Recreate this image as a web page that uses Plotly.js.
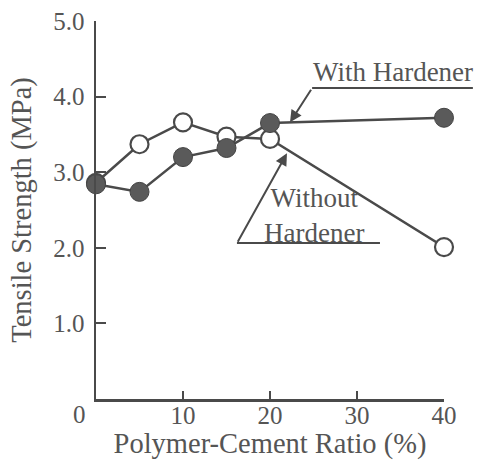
<!DOCTYPE html>
<html>
<head>
<meta charset="utf-8">
<script src="https://cdn.plot.ly/plotly-3.0.1.min.js"></script>
<style>html,body{margin:0;padding:0;background:#fff;}#chart{width:482px;height:462px;}</style>
</head>
<body>
<div id="chart"></div>
<script>
// Data
const ratio = [0, 5, 10, 15, 20, 40];
const withHardener = [2.84, 2.74, 3.20, 3.32, 3.65, 3.72];
const withoutHardener = [2.86, 3.37, 3.66, 3.47, 3.44, 2.01];
const xTickVals = [10, 20, 30, 40];
const xTickText = ['10', '20', '30', '40'];
const yTickVals = [1, 2, 3, 4, 5];
const yTickText = ['1.0', '2.0', '3.0', '4.0', '5.0'];

const ink = '#4a4a4a';
const txt = '#555555';
const serif = '"Liberation Serif", "DejaVu Serif", serif';

const traces = [
  {
    x: ratio, y: withoutHardener, type: 'scatter', mode: 'lines+markers',
    name: 'Without Hardener', cliponaxis: false,
    line: {color: ink, width: 2.5},
    marker: {symbol: 'circle', size: 18, color: '#ffffff', line: {color: ink, width: 2.2}}
  },
  {
    x: ratio, y: withHardener, type: 'scatter', mode: 'lines+markers',
    name: 'With Hardener', cliponaxis: false,
    line: {color: ink, width: 2.5},
    marker: {symbol: 'circle', size: 19, color: '#5a5a5a', line: {color: '#444444', width: 1}}
  }
];

const layout = {
  width: 482, height: 462,
  margin: {l: 96, r: 38, t: 21, b: 63},
  paper_bgcolor: '#ffffff', plot_bgcolor: '#ffffff',
  showlegend: false,
  font: {family: serif, color: txt, size: 25},
  xaxis: {
    range: [0, 40], showgrid: false, zeroline: false,
    showline: true, linecolor: ink, linewidth: 2.5,
    ticks: 'inside', ticklen: 8, tickwidth: 2, tickcolor: ink,
    tickvals: xTickVals, ticktext: xTickText, ticklabelstandoff: -8,
    tickfont: {family: serif, size: 25, color: txt},
    title: {text: 'Polymer-Cement Ratio (%)', font: {family: serif, size: 28.5, color: txt}, standoff: 3}
  },
  yaxis: {
    range: [0, 5], showgrid: false, zeroline: false,
    showline: true, linecolor: ink, linewidth: 2.5,
    ticks: 'inside', ticklen: 10, tickwidth: 2, tickcolor: ink,
    tickvals: yTickVals, ticktext: yTickText, ticklabelstandoff: 4,
    tickfont: {family: serif, size: 25, color: txt},
    title: {text: 'Tensile Strength (MPa)', font: {family: serif, size: 28.5, color: txt}, standoff: 14}
  },
  shapes: [
    {type: 'line', xref: 'paper', yref: 'paper', x0: 0.621, x1: 1.083, y0: 0.823, y1: 0.823, line: {color: ink, width: 2}},
    {type: 'line', xref: 'paper', yref: 'paper', x0: 0.405, x1: 0.816, y0: 0.413, y1: 0.413, line: {color: ink, width: 2}}
  ],
  annotations: [
    {text: 'With Hardener', xref: 'paper', yref: 'paper', x: 0.853, y: 0.865, showarrow: false,
     xanchor: 'center', yanchor: 'middle', font: {family: serif, size: 27, color: txt}},
    {text: '', x: 22.3, y: 3.66, xref: 'x', yref: 'y', showarrow: true, ax: 22, ay: -34,
     arrowhead: 2, arrowsize: 1.2, arrowwidth: 2, arrowcolor: ink},
    {text: 'Without<br>Hardener', xref: 'paper', yref: 'paper', x: 0.626, y: 0.485, showarrow: false,
     xanchor: 'center', yanchor: 'middle', align: 'center', font: {family: serif, size: 27, color: txt}},
    {text: '', x: 21.95, y: 3.25, xref: 'x', yref: 'y', showarrow: true, ax: -50, ay: 90,
     arrowhead: 2, arrowsize: 1.2, arrowwidth: 2, arrowcolor: ink},
    {text: '0', xref: 'paper', yref: 'paper', x: -0.046, y: -0.042, showarrow: false,
     xanchor: 'center', yanchor: 'middle', font: {family: serif, size: 25, color: txt}}
  ]
};

Plotly.newPlot('chart', traces, layout, {displayModeBar: false, staticPlot: true});
</script>
</body>
</html>
